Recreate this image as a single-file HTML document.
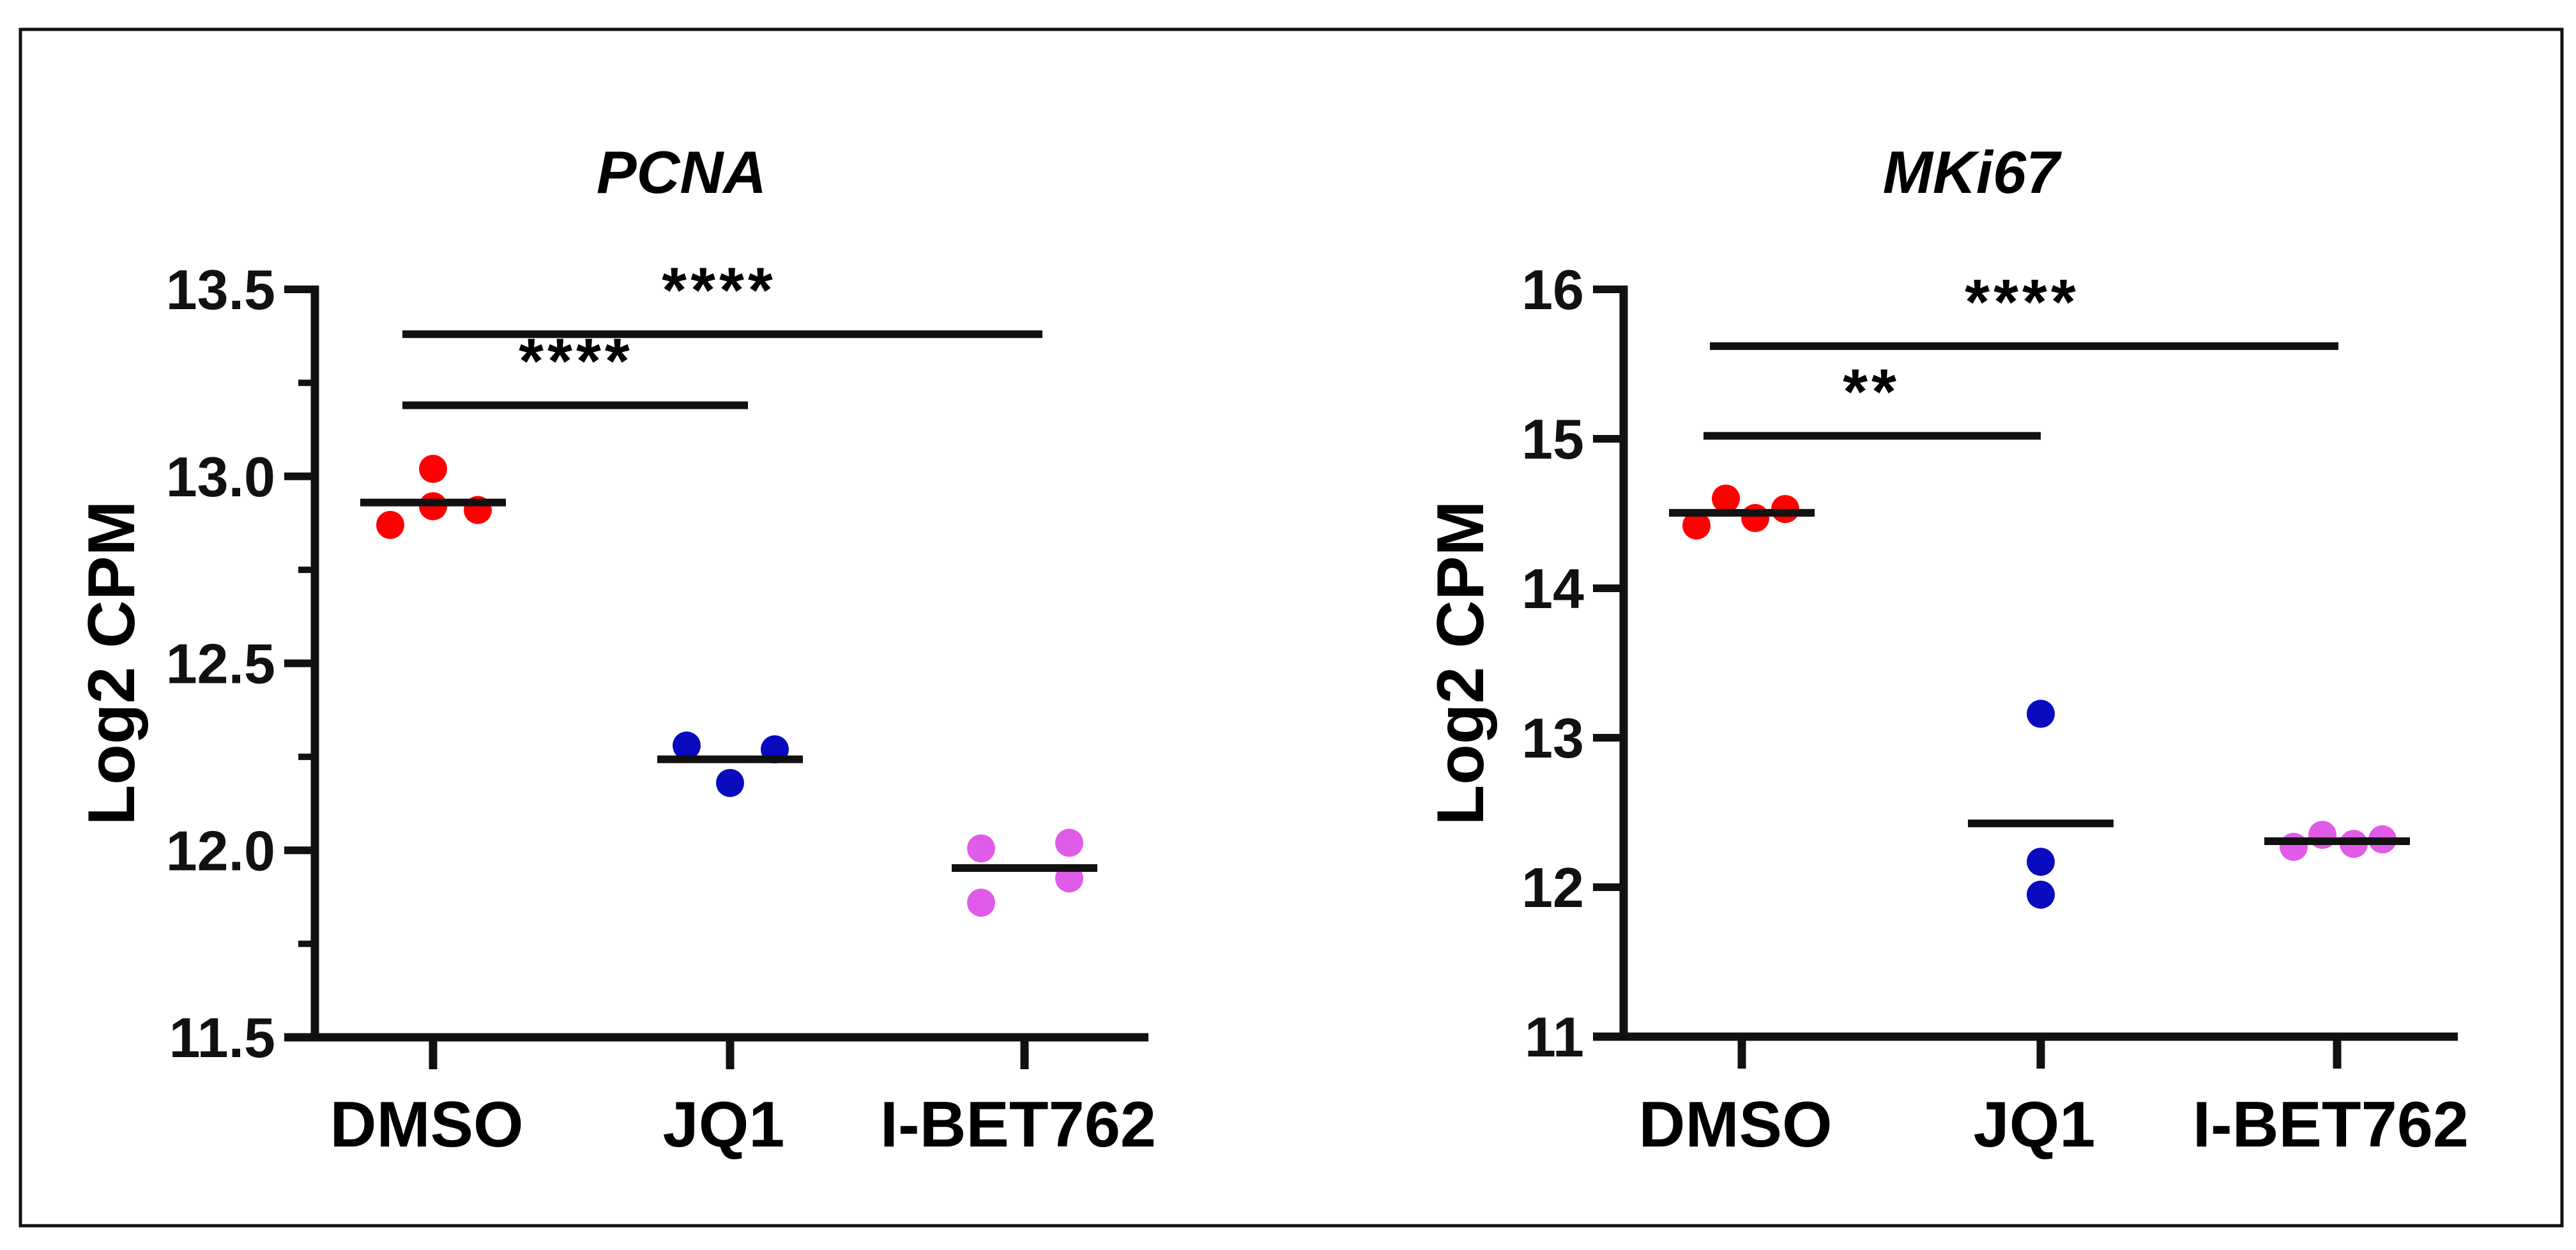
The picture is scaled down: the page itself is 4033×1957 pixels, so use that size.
<!DOCTYPE html>
<html><head><meta charset="utf-8"><style>
html,body{margin:0;padding:0;background:#fff;}
svg{display:block;}
text{font-family:"Liberation Sans",Arial,sans-serif;}
</style></head><body>
<svg id="fig" width="4033" height="1957" viewBox="0 0 4033 1957" xmlns="http://www.w3.org/2000/svg">
<rect x="32" y="46" width="3979" height="1873" fill="#fff" stroke="#111" stroke-width="5"/>
</svg>
<script>
const categories = ["DMSO", "JQ1", "I-BET762"];
const pcnaDMSO = [12.87, 13.02, 12.92, 12.91];
const pcnaJQ1 = [12.28, 12.18, 12.27];
const pcnaIBET = [12.005, 11.86, 12.02, 11.925];
const pcnaTicks = [11.5, 12.0, 12.5, 13.0, 13.5];
const pcnaTickLabels = ["11.5", "12.0", "12.5", "13.0", "13.5"];
const pcnaBrackets = [13.19, 13.38];
const pcnaStars = ["****", "****"];
const mkiDMSO = [14.42, 14.60, 14.47, 14.53];
const mkiJQ1 = [13.16, 12.17, 11.95];
const mkiIBET = [12.27, 12.35, 12.29, 12.32];
const mkiTicks = [11, 12, 13, 14, 15, 16];
const mkiTickLabels = ["11", "12", "13", "14", "15", "16"];
const mkiBrackets = [15.02, 15.62];
const mkiStars = ["**", "****"];

const NS = "http://www.w3.org/2000/svg";
const svg = document.getElementById("fig");
function mk(tag, attrs, parent) {
  const e = document.createElementNS(NS, tag);
  for (const k in attrs) e.setAttribute(k, attrs[k]);
  (parent || svg).appendChild(e);
  return e;
}
const colors = ["#ff0000", "#0a0abf", "#e05ce8"];

function panel(cfg) {
  const g = mk("g", {});
  
  
  const y = v => cfg.yTop + (cfg.max - v) / (cfg.max - cfg.min) * (cfg.yBot - cfg.yTop);
  const x = i => cfg.cx[i];
  // title
  const t = mk("text", {x: cfg.titleX, y: 302, "font-size": 94, "font-weight": "bold", "font-style": "italic", "text-anchor": "middle"}, g);
  t.textContent = cfg.title;
  
  
  // y label
  const yl = mk("text", {x: 0, y: 0, "font-size": 104, "font-weight": "bold", "text-anchor": "middle", transform: `translate(${cfg.ylX},1038) rotate(-90)`}, g);
  yl.textContent = "Log2 CPM";
  
  
  // axes
  const ya = mk("line", {x1: cfg.axX, y1: y(cfg.max) - 6, x2: cfg.axX, y2: cfg.yBot + 6, stroke: "#111", "stroke-width": 13}, g);
  
  
  const xa = mk("line", {x1: cfg.axX - 48, y1: cfg.yBot, x2: cfg.axEnd, y2: cfg.yBot, stroke: "#111", "stroke-width": 13}, g);
  
  
  cfg.ticks.forEach((v, i) => {
    const tk = mk("line", {x1: cfg.axX - 48, y1: y(v), x2: cfg.axX, y2: y(v), stroke: "#111", "stroke-width": 12}, g);
    
    
    const tl = mk("text", {x: cfg.axX - 62, y: y(v) + 31, "font-size": 88, "font-weight": "bold", "text-anchor": "end", fill: "#111"}, g);
    tl.textContent = cfg.tickLabels[i];
    
    
    if (cfg.minor && i < cfg.ticks.length - 1) {
      const mv = (v + cfg.ticks[i + 1]) / 2;
      const mt = mk("line", {x1: cfg.axX - 26, y1: y(mv), x2: cfg.axX, y2: y(mv), stroke: "#111", "stroke-width": 10}, g);
      
      
    }
  });
  categories.forEach((c, i) => {
    const tk = mk("line", {x1: x(i), y1: cfg.yBot, x2: x(i), y2: cfg.yBot + 50, stroke: "#111", "stroke-width": 13}, g);
    
    
    const tl = mk("text", {x: x(i) - 10, y: 1795, "font-size": 101, "font-weight": "bold", "text-anchor": "middle"}, g);
    tl.textContent = c;
    
    
  });
  // points + mean lines
  cfg.series.forEach((vals, i) => {
    const mean = vals.reduce((a, b) => a + b, 0) / vals.length;
    vals.forEach((v, j) => {
      const p = mk("circle", {cx: x(i) + cfg.offs[i][j], cy: y(v), r: 22, fill: colors[i]}, g);
      
      
    });
    const ml = mk("line", {x1: x(i) - 114, y1: y(mean), x2: x(i) + 114, y2: y(mean), stroke: "#111", "stroke-width": 12}, g);
    
    
  });
  // brackets
  cfg.brackets.forEach((v, i) => {
    const bl = mk("line", {x1: cfg.bx[i][0], y1: y(v), x2: cfg.bx[i][1], y2: y(v), stroke: "#111", "stroke-width": 12}, g);
    
    
    const st = mk("text", {x: cfg.sx[i], y: y(v) - 35, "font-size": 100, "font-weight": "bold", "text-anchor": "middle", "letter-spacing": "6"}, g);
    st.textContent = cfg.stars[i];
    
    
  });
}

panel({name: "pcna-chart", title: "PCNA", titleX: 1067, ylX: 210, axX: 493, axEnd: 1798,
  yTop: 453, yBot: 1624, min: 11.5, max: 13.5, ticks: pcnaTicks, tickLabels: pcnaTickLabels, minor: true,
  cx: [678, 1143, 1604], series: [pcnaDMSO, pcnaJQ1, pcnaIBET],
  offs: [[-67, 0, 0, 70], [-68, 0, 70], [-68, -68, 70, 70]],
  brackets: pcnaBrackets, bx: [[630, 1171], [630, 1632]], sx: [902, 1126], stars: pcnaStars});
panel({name: "mki67-chart", title: "MKi67", titleX: 3086, ylX: 2322, axX: 2542, axEnd: 3848,
  yTop: 453, yBot: 1623, min: 11, max: 16, ticks: mkiTicks, tickLabels: mkiTickLabels, minor: false,
  cx: [2727, 3195, 3659], series: [mkiDMSO, mkiJQ1, mkiIBET],
  offs: [[-71, -25, 21, 68], [0, 0, 0], [-68, -23, 26, 71]],
  brackets: mkiBrackets, bx: [[2667, 3195], [2677, 3661]], sx: [2930, 3166], stars: mkiStars});
</script>
</body></html>
